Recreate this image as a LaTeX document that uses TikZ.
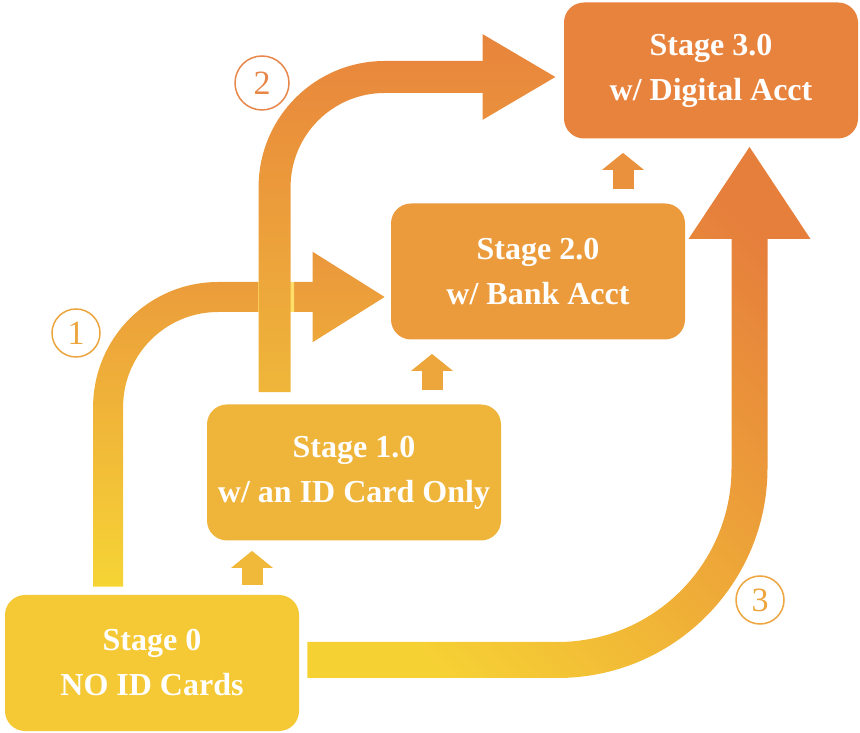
\documentclass[tikz,border=0pt]{standalone}
\usepackage{fontspec}
\setmainfont{Liberation Serif}
\usetikzlibrary{arrows.meta,backgrounds}
\definecolor{stagezero}{HTML}{F4C935}
\definecolor{stageone}{HTML}{EFB43A}
\definecolor{stagetwo}{HTML}{EB9B3C}
\definecolor{stagethree}{HTML}{E8833D}
\definecolor{stepone}{HTML}{F0B93A}
\definecolor{steptwo}{HTML}{EDA63B}
\definecolor{stepthree}{HTML}{EA913D}
\definecolor{ringone}{HTML}{EDA53E}
\definecolor{ringtwo}{HTML}{E8874A}
\definecolor{ringthree}{HTML}{EDA53E}
\definecolor{flowonelow}{HTML}{F6D535}
\definecolor{flowonehigh}{HTML}{EA963C}
\definecolor{flowtwolow}{HTML}{EFB73A}
\definecolor{flowtwohigh}{HTML}{E8843C}
\definecolor{flowthreelow}{HTML}{F6D134}
\definecolor{flowthreehigh}{HTML}{E67F3C}
\begin{document}
\begin{tikzpicture}[x=0.5pt, y=0.5pt,
  stagebox/.style={rectangle, rounded corners=10pt, fill=#1, text=white, minimum width=147pt, minimum height=68pt, align=center, font=\bfseries\fontsize{16}{22.5}\selectfont},
  flowarrow/.style n args={3}{draw=black, line width=#1, -{Triangle[width=#2, length=#3]}},
  flowshade/.style n args={3}{blend mode=screen, top color=#2, bottom color=#1, shading angle=#3},
  steparrow/.style={draw=#1, line width=10.5pt, -{Triangle[width=20.5pt, length=8.5pt]}, shorten <=7pt, shorten >=7pt},
  ring/.style={circle, draw=#1, text=#1, line width=0.75pt, minimum size=24pt, inner sep=0pt, font=\fontsize{17}{17}\selectfont}]
\useasboundingbox (0,0) rectangle (860,732);
% stages
\node[stagebox=stagezero] (s0) at (152,69) {Stage 0\\NO ID Cards};
\node[stagebox=stageone] (s1) at (354,259.5) {Stage 1.0\\w/ an ID Card Only};
\node[stagebox=stagetwo] (s2) at (538,460.5) {Stage 2.0\\w/ Bank Acct};
\node[stagebox=stagethree] (s3) at (711,661.5) {Stage 3.0\\w/ Digital Acct};
% small steps
\draw[steparrow=stepone, shorten <=5pt, shorten >=5pt] (s0.north -| 252,0) -- (s1.south -| 252,0);
\draw[steparrow=steptwo] (s1.north -| 432,0) -- (s2.south -| 432,0);
\draw[steparrow=stepthree] (s2.north -| 623,0) -- (s3.south -| 623,0);
% circled step numbers
\node[ring=ringone] (n1) at (76,399) {1};
\node[ring=ringtwo, minimum size=27pt] (n2) at (262,649) {2};
\node[ring=ringthree] (n3) at (760,132) {3};
% big arrows: black stroke, then a screen shading over its own patch
\begin{scope}[on background layer]
\fill[white] (0,0) rectangle (860,732);
\draw[flowarrow={15pt}{42.5pt}{36.5pt}, rounded corners=55pt] ([xshift=51.75pt,yshift=4pt]s0.north west) |- ([xshift=-2.5pt,yshift=-12.75pt]s2.west);
\shade[flowshade={flowonelow}{flowonehigh}{0}] (85,140) rectangle (392,485);
\draw[flowarrow={16pt}{40pt}{37pt}, rounded corners=55pt] ([xshift=34pt,yshift=6pt]s1.north west) |- ([xshift=-3.5pt,yshift=-3.25pt]s3.west);
\shade[flowshade={flowtwolow}{flowtwohigh}{0}] (255,334) -- (297,334) -- (297,416) -- (294,416) -- (294,454) -- (297,454) -- (297,500) -- (570,500) -- (570,700) -- (255,700) -- (255,454) -- (258,454) -- (258,416) -- (255,416) -- cycle;
\draw[flowarrow={18pt}{57.5pt}{46.5pt}, rounded corners=96pt] ([xshift=4pt,yshift=1.5pt]s0.east) -| ([xshift=19.25pt,yshift=-3.5pt]s3.south);
\shade[flowshade={flowthreelow}{flowthreehigh}{-45}] (302,40) -- (815,40) -- (815,595) -- (600,595) -- (600,300) -- (302,300) -- cycle;
\end{scope}
\end{tikzpicture}
\end{document}
